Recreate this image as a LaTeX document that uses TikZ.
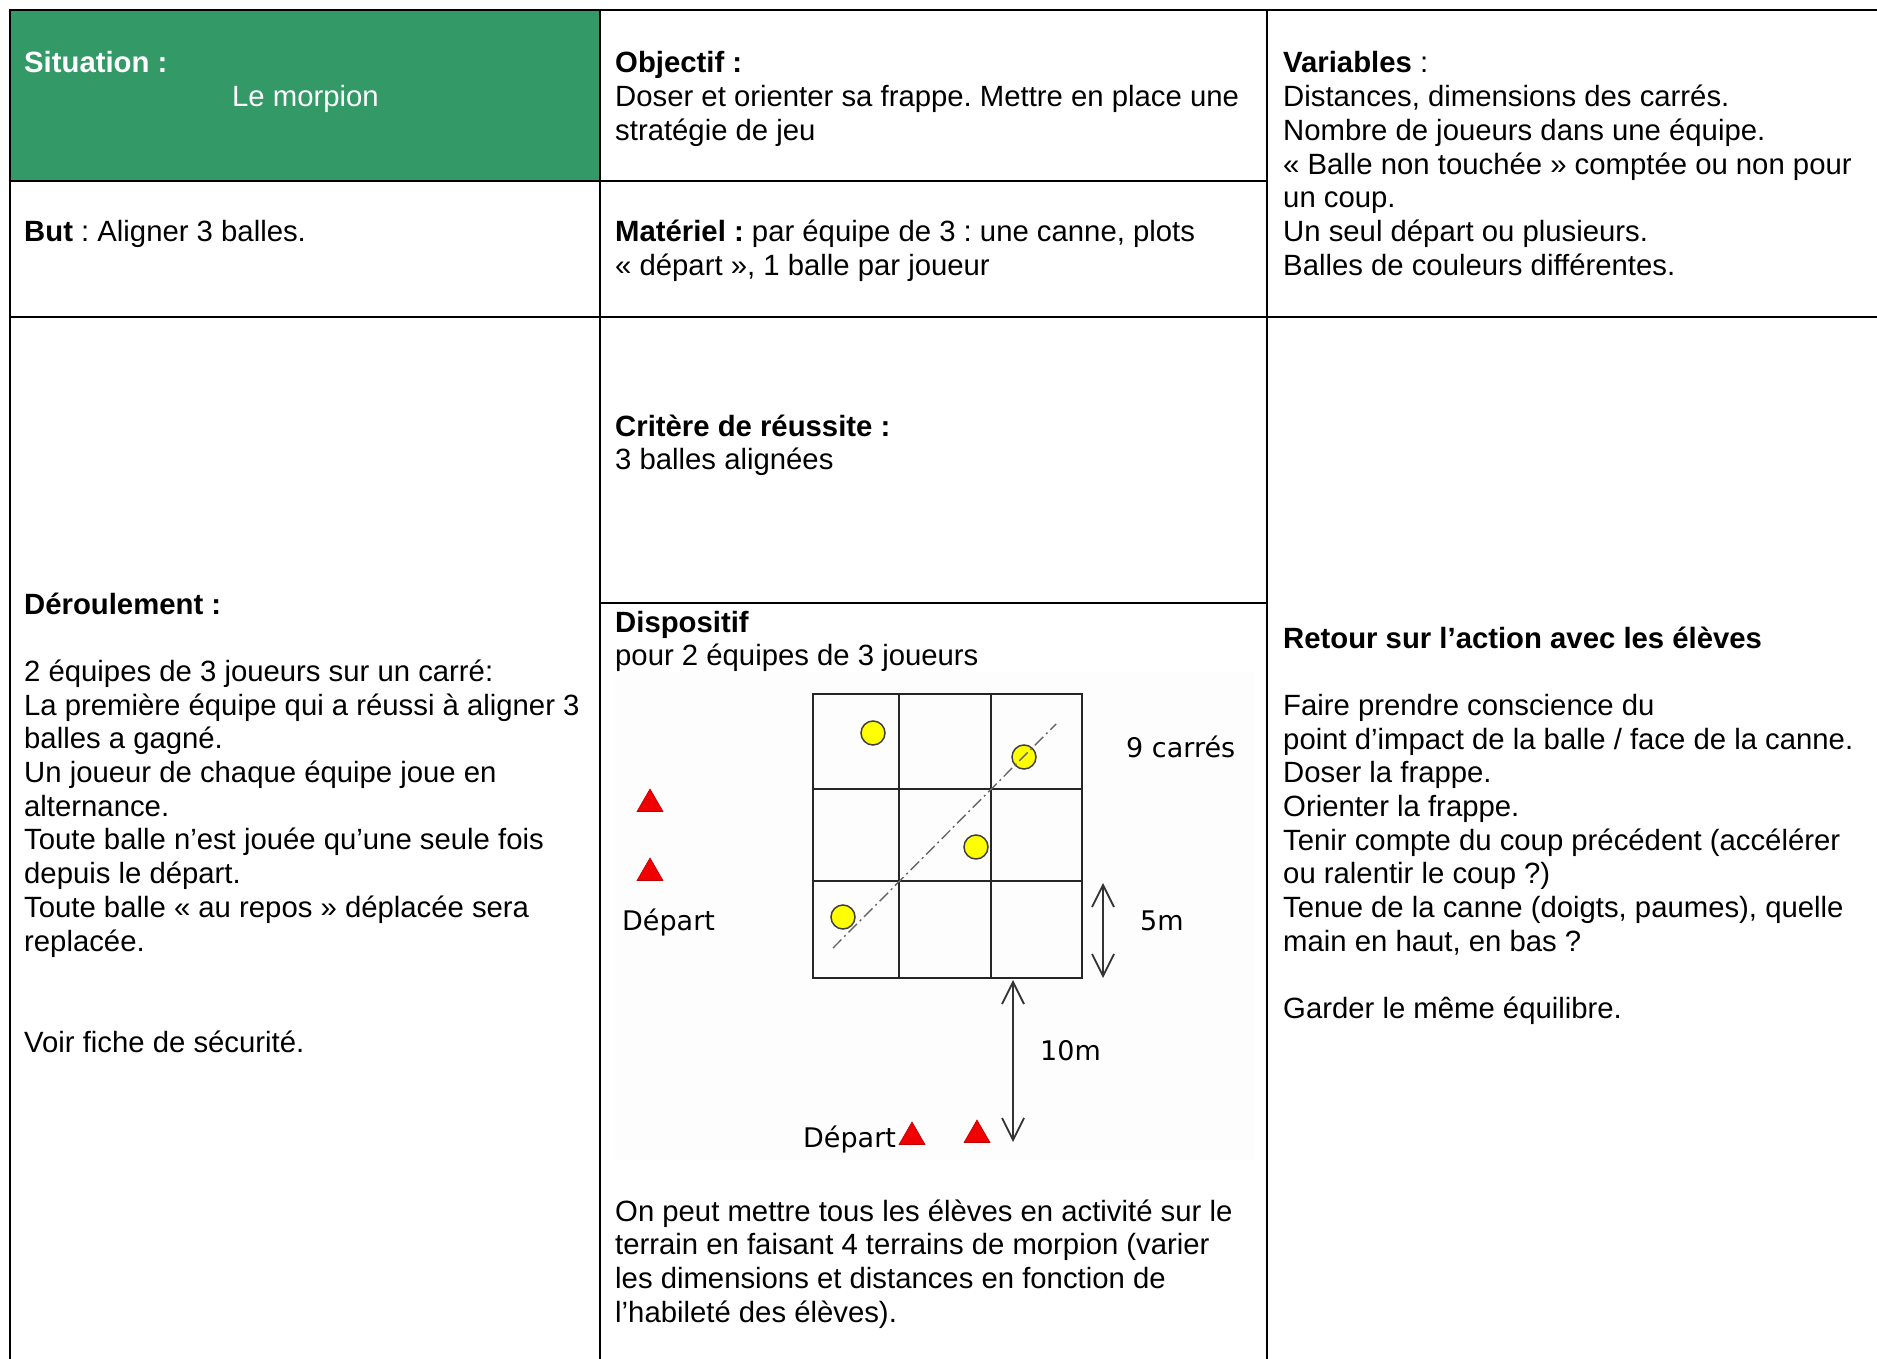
\documentclass[tikz,border=0pt]{standalone}
\usepackage{fontspec}
\setmainfont{Liberation Sans}
\newfontfamily\sketchfont{DejaVu Sans}
\usetikzlibrary{arrows.meta,shapes.geometric}
\definecolor{sitgreen}{HTML}{339966}
\definecolor{ballyellow}{HTML}{FFFF00}
\definecolor{conered}{HTML}{F00000}
\frenchspacing
\begin{document}
\begin{tikzpicture}[x=1pt,y=-1pt,
  rule/.style={line width=2.4pt,black,line cap=rect},
  txt/.style={anchor=base west,inner sep=0pt,font=\frenchspacing\fontsize{29.3}{33.7}\selectfont},
  sketch/.style={anchor=base west,inner sep=0pt,font=\sketchfont\fontsize{27}{30}\selectfont,text=black},
  gridline/.style={line width=2pt,black!85},
  ball/.style={circle,draw=black!75,fill=ballyellow,line width=1.5pt,minimum size=24pt,inner sep=0pt},
  cone/.style={regular polygon,regular polygon sides=3,fill=conered,draw=conered!80!black,line width=0.6pt,minimum size=30pt,inner sep=0pt},
  dimarrow/.style={draw=black!80,line width=1.8pt,{Straight Barb[length=22pt,width=22pt]}-{Straight Barb[length=22pt,width=22pt]}},
  axisline/.style={draw=black!60,line width=1.4pt,dash pattern=on 12pt off 4pt on 2pt off 4pt}
]
\useasboundingbox (0,0) rectangle (1877,1359);
\fill[white] (0,0) rectangle (1877,1359);
% green header cell
\fill[sitgreen] (10,10) rectangle (600,181);
% table rules
\draw[rule] (10,1359) -- (10,10) -- (1877,10);
\draw[rule] (600,10) -- (600,1359);
\draw[rule] (1267,10) -- (1267,1359);
\draw[rule] (10,181) -- (1267,181);
\draw[rule] (10,317) -- (1877,317);
\draw[rule] (600,603) -- (1267,603);

% column 1
\node[txt,text=white] (sit) at (24,73) {\textbf{Situation :}};
\node[txt,text=white] (morp) at (232,107) {Le morpion};
\node[txt] (but) at (24,242) {\textbf{But} : Aligner 3 balles.};
\node[txt] (deroul) at (24,614) {\parbox[t]{570pt}{\raggedright
\textbf{Déroulement :}\\[33.7pt]
2 équipes de 3 joueurs sur un carré:\\
La première équipe qui a réussi à aligner 3\\
balles a gagné.\\
Un joueur de chaque équipe joue en\\
alternance.\\
Toute balle n’est jouée qu’une seule fois\\
depuis le départ.\\
Toute balle «~au repos~» déplacée sera\\
replacée.\\[67.4pt]
Voir fiche de sécurité.}};

% column 2
\node[txt] (obj) at (615,73) {\parbox[t]{640pt}{\raggedright
\textbf{Objectif :}\\
Doser et orienter sa frappe. Mettre en place une\\
stratégie de jeu}};
\node[txt] (mat) at (615,242) {\parbox[t]{640pt}{\raggedright
\textbf{Matériel :} par équipe de 3 : une canne, plots\\
«~départ~», 1 balle par joueur}};
\node[txt] (crit) at (615,436) {\parbox[t]{640pt}{\raggedright
\textbf{Critère de réussite :}\\
3 balles alignées}};
\node[txt] (disp) at (615,632) {\parbox[t]{640pt}{\raggedright
\textbf{Dispositif}\\
pour 2 équipes de 3 joueurs}};
\node[txt] (peut) at (615,1221) {\parbox[t]{640pt}{\raggedright
On peut mettre tous les élèves en activité sur le\\
terrain en faisant 4 terrains de morpion (varier\\
les dimensions et distances en fonction de\\
l’habileté des élèves).}};

% column 3
\node[txt] (vars) at (1283,73) {\parbox[t]{590pt}{\raggedright
\textbf{Variables} :\\
Distances, dimensions des carrés.\\
Nombre de joueurs dans une équipe.\\
«~Balle non touchée~» comptée ou non pour\\
un coup.\\
Un seul départ ou plusieurs.\\
Balles de couleurs différentes.}};
\node[txt] (retour) at (1283,648) {\parbox[t]{590pt}{\raggedright
\textbf{Retour sur l’action avec les élèves}\\[33.7pt]
Faire prendre conscience du\\
point d’impact de la balle / face de la canne.\\
Doser la frappe.\\
Orienter la frappe.\\
Tenir compte du coup précédent (accélérer\\
ou ralentir le coup ?)\\
Tenue de la canne (doigts, paumes), quelle\\
main en haut, en bas ?\\[33.7pt]
Garder le même équilibre.}};

% dispositif sketch
\fill[black!0.6] (615,672) rectangle (1254,1160);
\draw[gridline] (813,694) rectangle (1082,978);
\draw[gridline] (899,694) -- (899,978);
\draw[gridline] (991,694) -- (991,978);
\draw[gridline] (813,789) -- (1082,789);
\draw[gridline] (813,881) -- (1082,881);

\node[ball] (b1) at (873,733) {};
\node[ball] (b2) at (1024,757) {};
\node[ball] (b3) at (976,847) {};
\node[ball] (b4) at (843,917) {};

\coordinate (lineA) at (833,948);
\coordinate (lineB) at (1056,724);
\draw[axisline] (lineA) -- (lineB);

\node[cone] (c1) at (650,804) {};
\node[cone] (c2) at (650,873) {};
\node[cone] (c3) at (912,1137) {};
\node[cone] (c4) at (977,1135) {};

\node[sketch] (dep1) at (622,930) {Départ};
\node[sketch] (dep2) at (803,1147) {Départ};
\node[sketch] (carres) at (1126,757) {9 carrés};
\node[sketch] (cinq) at (1140,930) {5m};
\node[sketch] (dix) at (1040,1060) {10m};

\coordinate (a5t) at (1103,883);
\coordinate (a5b) at (1103,978);
\draw[dimarrow] (a5t) -- (a5b);
\coordinate (a10t) at (1013,980);
\coordinate (a10b) at (1013,1142);
\draw[dimarrow] (a10t) -- (a10b);
\end{tikzpicture}
\end{document}
